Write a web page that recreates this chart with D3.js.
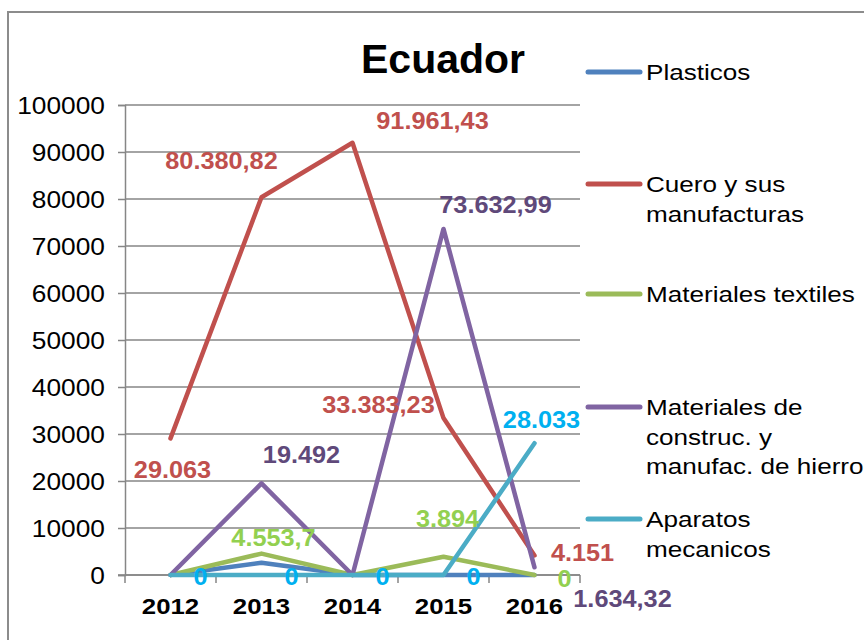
<!DOCTYPE html>
<html><head><meta charset="utf-8">
<script src="https://cdn.jsdelivr.net/npm/d3@7"></script>
<style>body{margin:0;background:#fff;} text{font-family:"Liberation Sans",Arial,sans-serif;}</style>
</head><body>
<script>
const years = ["2012","2013","2014","2015","2016"];
const seriesNames = ["Plasticos","Cuero y sus manufacturas","Materiales textiles","Materiales de construc. y manufac. de hierro","Aparatos mecanicos"];
const plasticos = [0, 2600, 0, 0, 0];
const cuero = [29063, 80380.82, 91961.43, 33383.23, 4151];
const textiles = [0, 4553.7, 0, 3894, 0];
const construc = [0, 19492, 0, 73632.99, 1634.32];
const aparatos = [0, 0, 0, 0, 28033];
const yTicks = [0,10000,20000,30000,40000,50000,60000,70000,80000,90000,100000];
const title = "Ecuador";
// data labels: [seriesIndex, yearIndex, text]
const dataLabels = [
  [1,0,"29.063"],[1,1,"80.380,82"],[1,2,"91.961,43"],[1,3,"33.383,23"],[1,4,"4.151"],
  [3,1,"19.492"],[3,3,"73.632,99"],[3,4,"1.634,32"],
  [2,1,"4.553,7"],[2,3,"3.894"],[2,4,"0"],
  [4,0,"0"],[4,1,"0"],[4,2,"0"],[4,3,"0"],[4,4,"28.033"]
];
const legendLines = [["Plasticos"],["Cuero y sus","manufacturas"],["Materiales textiles"],["Materiales de","construc. y","manufac. de hierro"],["Aparatos","mecanicos"]];

// styles
const lineColors = ["#4F81BD","#C0504D","#9BBB59","#8064A2","#4BACC6"];
const labelColors = ["#4F81BD","#C0504D","#92D050","#5F497A","#00B0F0"];
const labelOffsets = [
  [2,40],[-40,-28],[80,-14],[-65,-5],[48,6],
  [40,-20],[52,-16],[88,40],
  [12,-8],[4,-30],[30,12],
  [30,10],[30,10],[30,10],[30,10],[7,-15]
];
const legendY = [72,184,294,407,519];

const allSeries = [plasticos, cuero, textiles, construc, aparatos];
const W = 864, H = 640;
const svg = d3.select("body").append("svg").attr("width",W).attr("height",H);

svg.append("rect").attr("x",8).attr("y",12).attr("width",1000).attr("height",1000)
  .attr("fill","none").attr("stroke","#8c8c8c").attr("stroke-width",2);

const x = d3.scaleBand().domain(years).range([125,580]).padding(0);
const y = d3.scaleLinear().domain([0,100000]).range([575,105]);
const cx = d => x(d) + x.bandwidth()/2;

function stext(g, px, py, str, opts){
  const gg = g.append("g").attr("transform",`translate(${px},${py}) scale(${opts.sx||1},1)`);
  return gg.append("text").attr("x",0).attr("y",0)
    .attr("text-anchor",opts.anchor||"start")
    .attr("font-size",opts.size).attr("font-weight",opts.weight||"normal")
    .attr("fill",opts.fill||"#000").text(str);
}

// gridlines
svg.append("g").selectAll("line").data(yTicks).join("line")
  .attr("x1",125).attr("x2",580).attr("y1",d=>y(d)).attr("y2",d=>y(d))
  .attr("stroke","#868686").attr("stroke-width",1.5);

// y axis
const yAxis = svg.append("g").attr("transform","translate(125,0)")
  .call(d3.axisLeft(y).tickValues(yTicks).tickSize(7).tickFormat(""));
yAxis.select(".domain").attr("stroke","#868686").attr("stroke-width",1.5);
yAxis.selectAll(".tick line").attr("stroke","#868686").attr("stroke-width",1.5);
yTicks.forEach(t => stext(svg, 105, y(t)+8.5, String(t), {size:23.5, sx:1.12, anchor:"end"}));

// x axis
const xAxis = svg.append("g").attr("transform","translate(0,575)")
  .call(d3.axisBottom(x).tickSize(0).tickFormat(""));
xAxis.select(".domain").remove();
const bounds = years.map(d=>x(d)).concat([580]);
svg.append("g").selectAll("line").data(bounds).join("line")
  .attr("x1",d=>d).attr("x2",d=>d).attr("y1",575).attr("y2",583)
  .attr("stroke","#868686").attr("stroke-width",1.5);
svg.append("line").attr("x1",118).attr("x2",580).attr("y1",575).attr("y2",575)
  .attr("stroke","#868686").attr("stroke-width",1.5);
years.forEach(d => stext(svg, cx(d), 614, d, {size:23, sx:1.12, anchor:"middle", weight:"bold"}));

// lines
const line = d3.line().x((d,i)=>cx(years[i])).y(d=>y(d));
allSeries.forEach((s,k)=>{
  svg.append("path").datum(s).attr("d",line).attr("fill","none")
    .attr("stroke",lineColors[k]).attr("stroke-width",4.5)
    .attr("stroke-linejoin","round").attr("stroke-linecap","round");
});

// data labels
dataLabels.forEach((l,i)=>{
  const [si, yi, str] = l;
  const px = cx(years[yi]) + labelOffsets[i][0];
  const py = y(allSeries[si][yi]) + labelOffsets[i][1];
  stext(svg, px, py, str, {size:23, sx:1.1, anchor:"middle", weight:"bold", fill:labelColors[si]});
});

// title
stext(svg, 443, 73, title, {size:41, weight:"bold", anchor:"middle"});

// legend
legendLines.forEach((lines,k)=>{
  svg.append("line").attr("x1",588).attr("x2",640).attr("y1",legendY[k]).attr("y2",legendY[k])
    .attr("stroke",lineColors[k]).attr("stroke-width",5).attr("stroke-linecap","round");
  lines.forEach((t,j)=>{
    stext(svg, 646, legendY[k]+8 + j*29.5, t, {size:22.5, sx:1.16});
  });
});
</script>
</body></html>
